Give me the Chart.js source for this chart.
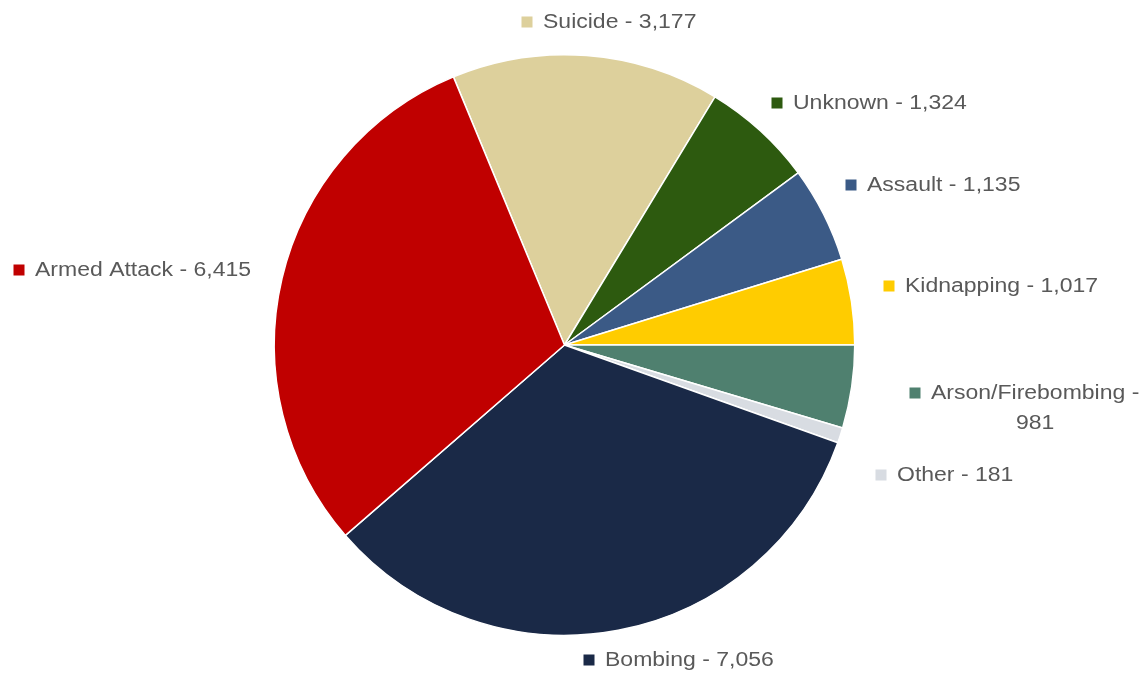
<!DOCTYPE html>
<html lang="en">

<head>
    <meta charset="UTF-8" />
    <title>Attack types</title>
    <script src="https://cdn.jsdelivr.net/npm/chart.js"></script>
    <style>
        body {
            margin: 0;
            padding: 0;
            background: #ffffff;
        }

        canvas {
            display: block;
        }
    </style>
</head>

<body>
    <canvas id="attackPie" width="1146" height="674"></canvas>

    <script>
        // Attack types, clockwise from the top
        const categories = ["Suicide", "Unknown", "Assault", "Kidnapping", "Arson/Firebombing", "Other", "Bombing", "Armed Attack"];
        const counts = [3177, 1324, 1135, 1017, 981, 181, 7056, 6415];
        const countLabels = ["3,177", "1,324", "1,135", "1,017", "981", "181", "7,056", "6,415"];
        const sliceColors = ["#ddd09c", "#2d5a0f", "#3b5a86", "#ffcc00", "#4f806f", "#d8dce2", "#1a2947", "#c00000"];

        // where each label sits: square centre x, text middle y, and line breaks
        const labelSpots = [
            { x: 527, y: 22 },
            { x: 777, y: 103 },
            { x: 851, y: 185 },
            { x: 889, y: 286 },
            { x: 915, y: 393, wrap: true },
            { x: 881, y: 475 },
            { x: 589, y: 660 },
            { x: 19, y: 270 },
        ];

        // draws "■ Name - value" next to the pie
        const sliceLabels = {
            id: "sliceLabels",
            afterDraw(chart) {
                const ctx = chart.ctx;
                const stretch = 1.15;
                ctx.save();
                ctx.font = "20px 'Liberation Sans', Arial, sans-serif";
                ctx.textBaseline = "middle";
                categories.forEach((name, i) => {
                    const spot = labelSpots[i];
                    ctx.fillStyle = sliceColors[i];
                    ctx.fillRect(spot.x - 5.5, spot.y - 5.5, 11, 11);
                    ctx.fillStyle = "#595959";
                    const textX = spot.x + 16;
                    if (spot.wrap) {
                        const first = name + " -";
                        const w = ctx.measureText(first).width * stretch;
                        drawStretched(ctx, first, textX, spot.y, stretch);
                        const second = countLabels[i];
                        const w2 = ctx.measureText(second).width * stretch;
                        drawStretched(ctx, second, textX + (w - w2) / 2, spot.y + 30, stretch);
                    } else {
                        drawStretched(ctx, name + " - " + countLabels[i], textX, spot.y, stretch);
                    }
                });
                ctx.restore();
            },
        };

        function drawStretched(ctx, text, x, y, sx) {
            ctx.save();
            ctx.translate(x, y);
            ctx.scale(sx, 1);
            ctx.fillText(text, 0, 0);
            ctx.restore();
        }

        const ctx = document.getElementById("attackPie").getContext("2d");
        new Chart(ctx, {
            type: "pie",
            data: {
                labels: categories,
                datasets: [
                    {
                        data: counts,
                        backgroundColor: sliceColors,
                        borderColor: "#ffffff",
                        borderWidth: 1.5,
                    },
                ],
            },
            options: {
                responsive: false,
                animation: false,
                rotation: -22.5,
                layout: {
                    padding: { left: 273, right: 290, top: 54, bottom: 38 },
                },
                plugins: {
                    legend: { display: false },
                    tooltip: { enabled: false },
                },
            },
            plugins: [sliceLabels],
        });
    </script>
</body>

</html>
